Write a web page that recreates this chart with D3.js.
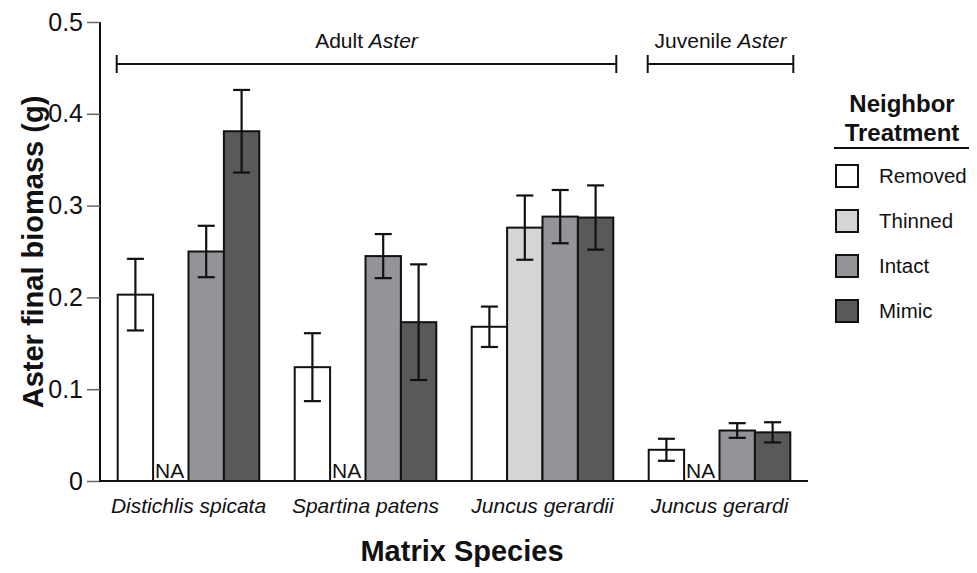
<!DOCTYPE html>
<html>
<head>
<script src="https://cdn.jsdelivr.net/npm/d3@7"></script>
<style>
  body { margin: 0; background: #fff; }
  text { font-family: "Liberation Sans", Arial, sans-serif; fill: #111; }
</style>
</head>
<body>
<div id="viz"></div>
<script>
// data
var species = ["Distichlis spicata", "Spartina patens", "Juncus gerardii", "Juncus gerardi"];
var treatments = ["Removed", "Thinned", "Intact", "Mimic"];
var colors = ["#ffffff", "#d4d5d7", "#939498", "#58595b"];
var removed = [0.203, 0.124, 0.168, 0.034];
var thinned = [null, null, 0.276, null];
var intact = [0.250, 0.245, 0.288, 0.055];
var mimic = [0.381, 0.173, 0.287, 0.053];
var removedErr = [0.039, 0.037, 0.022, 0.012];
var thinnedErr = [null, null, 0.035, null];
var intactErr = [0.028, 0.024, 0.029, 0.008];
var mimicErr = [0.045, 0.063, 0.035, 0.011];
var yTicks = [0, 0.1, 0.2, 0.3, 0.4, 0.5];
var ageGroups = ["Adult", "Juvenile"];
var ageFrom = [0, 3];
var ageTo = [2, 3];

var svg = d3.select("#viz").append("svg")
    .attr("width", 977)
    .attr("height", 573);

var x = d3.scaleBand().domain(species).range([100, 808]).paddingInner(0.2).paddingOuter(0.1);
var xi = d3.scaleBand().domain(treatments).range([0, x.bandwidth()]);
var y = d3.scaleLinear().domain([0, 0.5]).range([481, 22]);
var color = d3.scaleOrdinal().domain(treatments).range(colors);

var values = [removed, thinned, intact, mimic];
var errs = [removedErr, thinnedErr, intactErr, mimicErr];
var rows = [];
species.forEach(function(s, i){
    treatments.forEach(function(t, j){
        rows.push({sp: s, tr: t, v: values[j][i], e: errs[j][i]});
    });
});

// y axis
var yAxis = svg.append("g")
    .attr("transform", "translate(100,0)")
    .call(d3.axisLeft(y).tickValues(yTicks).tickSize(13).tickPadding(4)
        .tickFormat(function(d){ return d === 0 ? "0" : d.toFixed(1); }));
yAxis.select(".domain").attr("stroke", "#111").attr("stroke-width", 2).attr("d", "M0,22V481");
yAxis.selectAll(".tick line").attr("stroke", "#666").attr("stroke-width", 1.5);
yAxis.selectAll(".tick text").style("font-size", "25px").attr("fill", "#111");

// bars
var bars = rows.filter(function(r){ return r.v !== null; });
svg.append("g").selectAll("rect").data(bars).enter().append("rect")
    .attr("x", function(d){ return x(d.sp) + xi(d.tr); })
    .attr("y", function(d){ return y(d.v); })
    .attr("width", xi.bandwidth())
    .attr("height", function(d){ return y(0) - y(d.v); })
    .attr("fill", function(d){ return color(d.tr); })
    .attr("stroke", "#111")
    .attr("stroke-width", 2);

// error bars
var eb = svg.append("g").attr("stroke", "#111").attr("stroke-width", 2.2);
bars.forEach(function(d){
    var cx = x(d.sp) + xi(d.tr) + xi.bandwidth() / 2;
    eb.append("line").attr("x1", cx).attr("x2", cx).attr("y1", y(d.v + d.e)).attr("y2", y(d.v - d.e));
    eb.append("line").attr("x1", cx - 8.5).attr("x2", cx + 8.5).attr("y1", y(d.v + d.e)).attr("y2", y(d.v + d.e));
    eb.append("line").attr("x1", cx - 8.5).attr("x2", cx + 8.5).attr("y1", y(d.v - d.e)).attr("y2", y(d.v - d.e));
});

// NA labels
svg.append("g").selectAll("text").data(rows.filter(function(r){ return r.v === null; })).enter().append("text")
    .attr("x", function(d){ return x(d.sp) + xi(d.tr) + 2; })
    .attr("y", y(0) - 3)
    .style("font-size", "21px")
    .text("NA");

// x baseline
svg.append("line").attr("x1", 99).attr("x2", 808).attr("y1", y(0)).attr("y2", y(0))
    .attr("stroke", "#111").attr("stroke-width", 2);

// category labels
svg.append("g").selectAll("text").data(species).enter().append("text")
    .attr("x", function(d){ return x(d) + x.bandwidth() / 2; })
    .attr("y", 513)
    .attr("text-anchor", "middle")
    .style("font-size", "21px")
    .style("font-style", "italic")
    .text(function(d){ return d; });

// Adult / Juvenile brackets
ageGroups.forEach(function(g, i){
    var x1 = x(species[ageFrom[i]]) - 1, x2 = x(species[ageTo[i]]) + x.bandwidth() + 3;
    var by = 64;
    var br = svg.append("g").attr("stroke", "#111").attr("stroke-width", 2);
    br.append("line").attr("x1", x1).attr("x2", x2).attr("y1", by).attr("y2", by);
    br.append("line").attr("x1", x1).attr("x2", x1).attr("y1", by - 9).attr("y2", by + 9);
    br.append("line").attr("x1", x2).attr("x2", x2).attr("y1", by - 9).attr("y2", by + 9);
    var t = svg.append("text").attr("x", (x1 + x2) / 2).attr("y", 48)
        .attr("text-anchor", "middle").style("font-size", "21px");
    t.append("tspan").text(g + " ");
    t.append("tspan").style("font-style", "italic").text("Aster");
});

// axis titles
svg.append("text")
    .attr("transform", "translate(43,252) rotate(-90)")
    .attr("text-anchor", "middle")
    .style("font-size", "29px").style("font-weight", "bold")
    .text("Aster final biomass (g)");
svg.append("text")
    .attr("x", 462).attr("y", 561)
    .attr("text-anchor", "middle")
    .style("font-size", "29px").style("font-weight", "bold")
    .text("Matrix Species");

// legend
var lg = svg.append("g");
lg.append("text").attr("x", 902).attr("y", 112).attr("text-anchor", "middle")
    .style("font-size", "24px").style("font-weight", "bold").text("Neighbor");
lg.append("text").attr("x", 902).attr("y", 141).attr("text-anchor", "middle")
    .style("font-size", "24px").style("font-weight", "bold").text("Treatment");
lg.append("line").attr("x1", 834).attr("x2", 969).attr("y1", 148).attr("y2", 148)
    .attr("stroke", "#111").attr("stroke-width", 2);
treatments.forEach(function(t, i){
    var cy = 176 + i * 45;
    lg.append("rect").attr("x", 836).attr("y", cy - 11).attr("width", 22).attr("height", 22)
        .attr("fill", color(t)).attr("stroke", "#111").attr("stroke-width", 2);
    lg.append("text").attr("x", 879).attr("y", cy + 7).style("font-size", "20.5px").text(t);
});
</script>
</body>
</html>
